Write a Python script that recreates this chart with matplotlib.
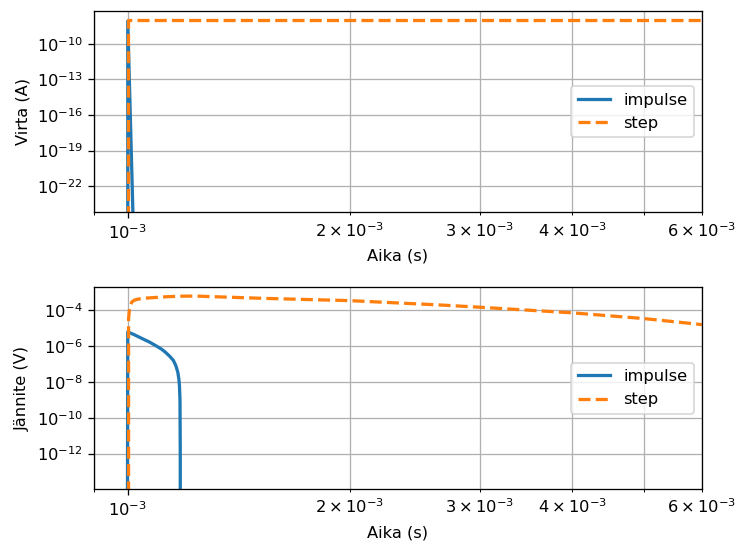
import matplotlib
matplotlib.use("Agg")
import matplotlib.pyplot as plt

# Virta (A), luettu kuvasta
t_virta = [9e-4, 1e-3, 1e-3, 1.02e-3, 1.05e-3, 6e-3]
virta_impulse = [0, 0, 8e-9, 1e-28, 0, 0]
virta_step = [0, 0, 1e-8, 1e-8, 1e-8, 1e-8]

# Jännite (V), luettu kuvasta
t_jannite_impulse = [9e-4, 1e-3, 1.02e-3, 1.045e-3, 1.07e-3, 1.09e-3, 1.11e-3,
                     1.124e-3, 1.14e-3, 1.153e-3, 1.162e-3, 1.169e-3, 1.173e-3,
                     1.175e-3, 1.177e-3, 1.178e-3, 1.18e-3, 6e-3]
jannite_impulse = [0, 6.3e-6, 4.4e-6, 2.7e-6, 1.7e-6, 1.1e-6, 7e-7,
                   4.7e-7, 2.7e-7, 1.6e-7, 8e-8, 3.5e-8, 1.4e-8,
                   6.3e-9, 1e-9, 1e-12, 0, 0]

t_jannite_step = [9e-4, 1e-3, 1.0025e-3, 1.006e-3, 1.013e-3, 1.022e-3, 1.034e-3,
                  1.055e-3, 1.078e-3, 1.13e-3, 1.184e-3, 1.234e-3, 1.525e-3,
                  2.0e-3, 2.65e-3, 3.0e-3, 4.0e-3, 5.0e-3, 6.0e-3]
jannite_step = [0, 0, 3.5e-5, 1.5e-4, 3.0e-4, 3.8e-4, 4.3e-4,
                4.8e-4, 5.1e-4, 5.8e-4, 6.2e-4, 6.3e-4, 4.7e-4,
                3.5e-4, 2.0e-4, 1.5e-4, 7.3e-5, 3.5e-5, 1.6e-5]

dpi = 117
fig = plt.figure(figsize=(739 / dpi, 544 / dpi), dpi=dpi)
ax1 = fig.add_axes([0.1272, 0.6097, 0.8227, 0.3701])
ax2 = fig.add_axes([0.1272, 0.1011, 0.8227, 0.3708])

ax1.plot(t_virta, virta_impulse, lw=2, label='impulse')
ax1.plot(t_virta, virta_step, '--', lw=2, label='step')
ax1.set_xscale('log')
ax1.set_yscale('log')
ax1.set_xlim(9e-4, 6e-3)
ax1.set_ylim(10**-24.19, 10**-7.25)
ax1.set_xlabel('Aika (s)')
ax1.set_ylabel('Virta (A)')
ax1.grid(True, which='both')
ax1.legend(loc='center right')

ax2.plot(t_jannite_impulse, jannite_impulse, lw=2, label='impulse')
ax2.plot(t_jannite_step, jannite_step, '--', lw=2, label='step')
ax2.set_xscale('log')
ax2.set_yscale('log')
ax2.set_xlim(9e-4, 6e-3)
ax2.set_ylim(10**-13.98, 10**-2.71)
ax2.set_xlabel('Aika (s)')
ax2.set_ylabel('Jännite (V)')
ax2.grid(True, which='both')
ax2.legend(loc='center right')

fig.savefig('out.png', dpi=dpi)
